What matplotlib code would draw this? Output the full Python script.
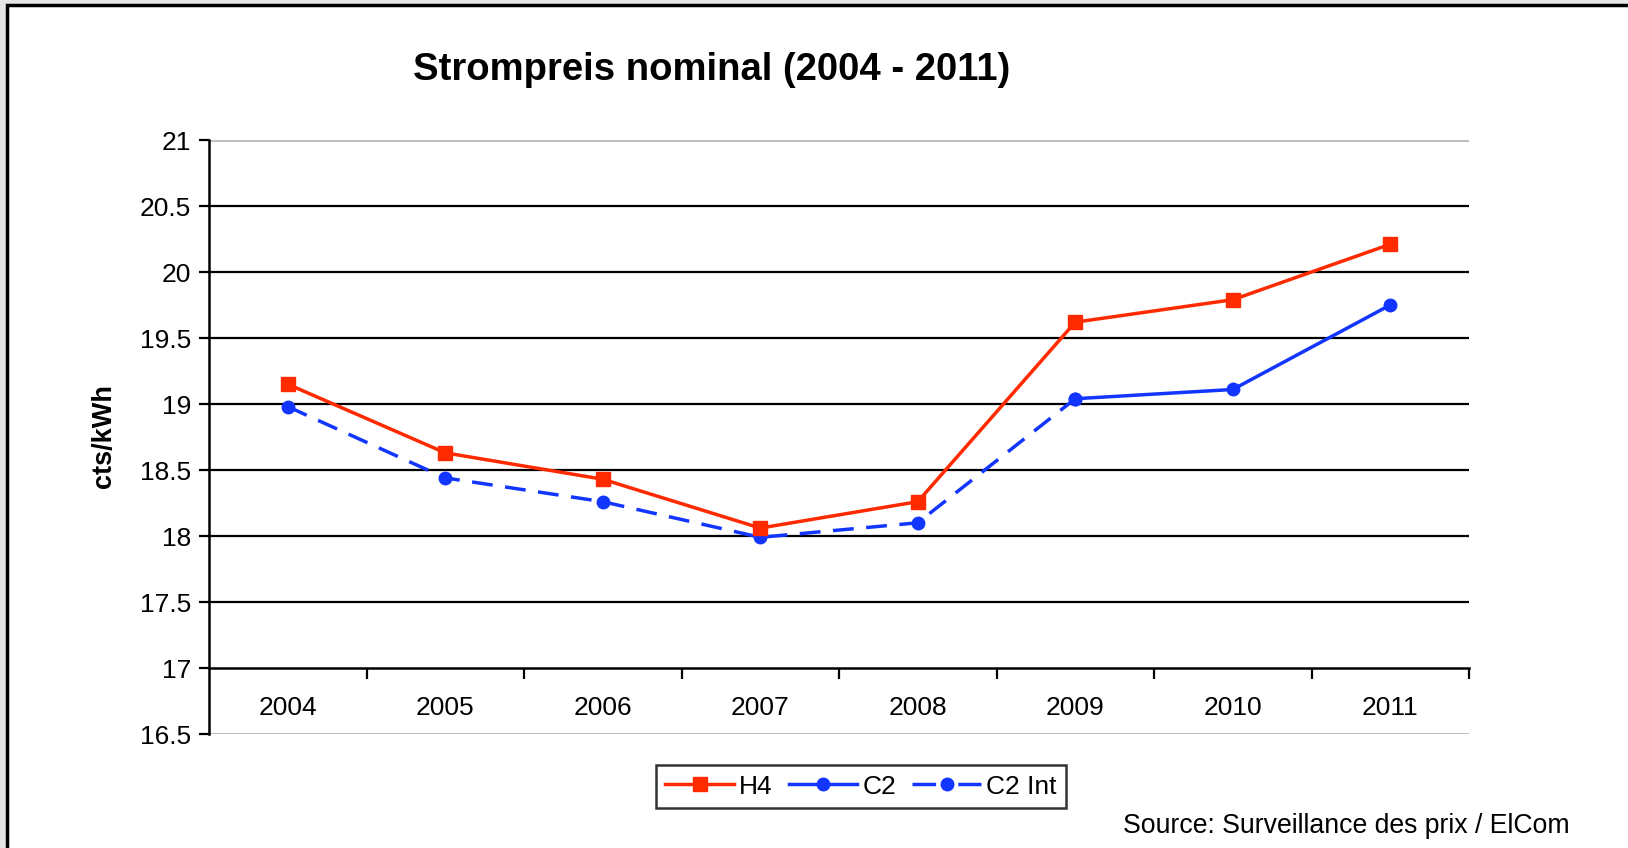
import numpy as np
import matplotlib.pyplot as plt
from matplotlib.patches import Rectangle

plt.rcParams['font.family'] = ['Liberation Sans', 'DejaVu Sans']

### DATA ###
years = ['2004', '2005', '2006', '2007', '2008', '2009', '2010', '2011']
h4 = [19.15, 18.63, 18.43, 18.06, 18.26, 19.62, 19.79, 20.21]
c2 = [np.nan, np.nan, np.nan, np.nan, np.nan, 19.04, 19.11, 19.75]
c2_int = [18.98, 18.44, 18.26, 17.99, 18.10, 19.04, np.nan, np.nan]

red = '#ff2a00'
blue = '#1236ff'

W, H = 1628, 848
fig = plt.figure(figsize=(W / 100, H / 100), dpi=100)
fig.patch.set_facecolor('#e6e6e6')
# white panel with black frame (top / left edges visible)
fig.patches.append(Rectangle((7 / W, -0.1), 1.2, 1 - 5 / H + 0.1, transform=fig.transFigure,
                             facecolor='white', edgecolor='black', lw=2.5, zorder=-5))

ax = fig.add_axes([209 / W, 1 - 734 / H, (1469 - 209) / W, (734 - 140) / H])
ax.set_facecolor('none')
x = np.arange(len(years))

# grid lines
for v in np.arange(17.5, 21, 0.5):
    ax.axhline(v, color='black', lw=1.6, zorder=1)
ax.axhline(21, color='#c0c0c0', lw=2.2, zorder=1)
ax.axhline(16.5, color='#c0c0c0', lw=2.2, zorder=1)

lw = 2.5
ax.plot(x, h4, color=red, lw=lw, marker='s', ms=10.5, label='H4', zorder=4)
ax.plot(x, c2, color=blue, lw=lw, marker='o', ms=9, label='C2', zorder=3)
ax.plot(x, c2_int, color=blue, lw=lw, marker='o', ms=9, dashes=(6, 3.6),
        label='C2 Int', zorder=3)

ax.set_xlim(-0.5, 7.5)
ax.set_ylim(16.5, 21)
ax.set_yticks(np.arange(16.5, 21.01, 0.5))
ax.set_yticklabels(['16.5', '17', '17.5', '18', '18.5', '19', '19.5', '20', '20.5', '21'])
ax.set_xticks(x)
ax.set_xticklabels(years)
ax.set_xticks(np.arange(0.5, 7.6, 1), minor=True)

for s in ['top', 'right']:
    ax.spines[s].set_visible(False)
ax.spines['bottom'].set_position(('data', 17))
ax.spines['bottom'].set_linewidth(1.8)
ax.spines['left'].set_linewidth(1.8)

ax.tick_params(axis='y', direction='out', length=7, width=1.6, labelsize=19, pad=6)
ax.tick_params(axis='x', which='major', length=0, labelsize=19, pad=20)
ax.tick_params(axis='x', which='minor', direction='out', length=8, width=1.6)

fig.text(712 / W, 1 - 70 / H, 'Strompreis nominal (2004 - 2011)', ha='center', va='center',
         fontsize=27.5, fontweight='bold')
fig.text(104 / W, 1 - 436 / H, 'cts/kWh', ha='center', va='center', rotation=90,
         fontsize=19.5, fontweight='bold')
fig.text(1123 / W, 1 - 826 / H, 'Source: Surveillance des prix / ElCom', ha='left', va='center',
         fontsize=19.2)

leg = fig.legend(loc='center', bbox_to_anchor=(861 / W, 1 - 786.5 / H), ncol=3, fontsize=19,
                 frameon=True, fancybox=False, handlelength=2.6, handletextpad=0.2,
                 columnspacing=0.6, borderpad=0.35, borderaxespad=0)
leg.get_frame().set_edgecolor('black')
leg.get_frame().set_linewidth(1.8)
# dash - dot - dash look for the legend handle
leg.get_lines()[2].set_dashes((6.8, 6.4))

fig.savefig('out.png', dpi=100, facecolor=fig.get_facecolor())
